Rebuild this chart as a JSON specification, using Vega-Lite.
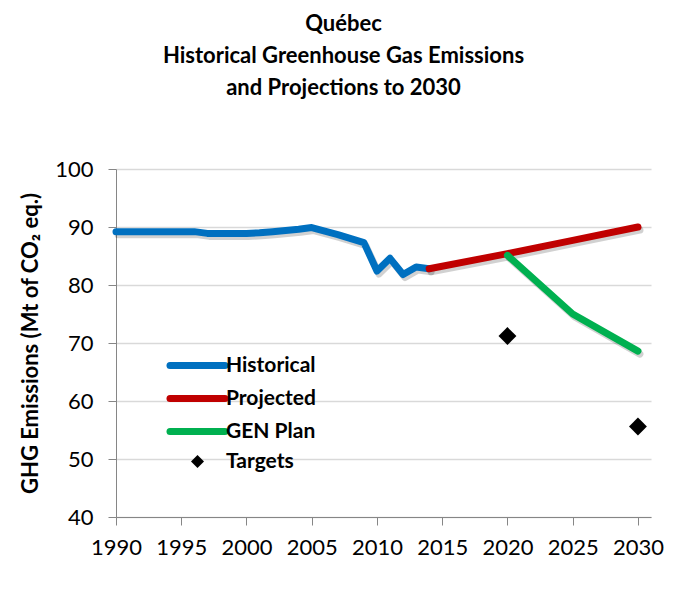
{
  "$schema": "https://vega.github.io/schema/vega-lite/v6.json",
  "width": 535,
  "height": 348,
  "autosize": {"type": "none"},
  "padding": {"left": 116, "top": 169, "right": 25, "bottom": 83},
  "background": "white",
  "config": {
    "font": "Lato",
    "view": {"stroke": null}
  },
  "title": {
    "text": ["Québec", "Historical Greenhouse Gas Emissions", "and Projections to 2030"],
    "fontSize": 22,
    "fontWeight": "bold",
    "font": "Lato",
    "color": "#000000",
    "lineHeight": 32,
    "anchor": "middle",
    "frame": "group",
    "dx": -40,
    "offset": 58
  },
  "datasets": {
    "lines": [
      {"series": "Historical", "year": 1990, "value": 89.2},
      {"series": "Historical", "year": 1991, "value": 89.2},
      {"series": "Historical", "year": 1992, "value": 89.2},
      {"series": "Historical", "year": 1993, "value": 89.2},
      {"series": "Historical", "year": 1994, "value": 89.2},
      {"series": "Historical", "year": 1995, "value": 89.2},
      {"series": "Historical", "year": 1996, "value": 89.2},
      {"series": "Historical", "year": 1997, "value": 88.9},
      {"series": "Historical", "year": 1998, "value": 88.9},
      {"series": "Historical", "year": 1999, "value": 88.9},
      {"series": "Historical", "year": 2000, "value": 88.9},
      {"series": "Historical", "year": 2001, "value": 89.0},
      {"series": "Historical", "year": 2002, "value": 89.2},
      {"series": "Historical", "year": 2003, "value": 89.4},
      {"series": "Historical", "year": 2004, "value": 89.6},
      {"series": "Historical", "year": 2005, "value": 89.9},
      {"series": "Historical", "year": 2006, "value": 89.3},
      {"series": "Historical", "year": 2007, "value": 88.7},
      {"series": "Historical", "year": 2008, "value": 88.0},
      {"series": "Historical", "year": 2009, "value": 87.3},
      {"series": "Historical", "year": 2010, "value": 82.4},
      {"series": "Historical", "year": 2011, "value": 84.6},
      {"series": "Historical", "year": 2012, "value": 81.8},
      {"series": "Historical", "year": 2013, "value": 83.1},
      {"series": "Historical", "year": 2014, "value": 82.8},
      {"series": "Projected", "year": 2014, "value": 82.8},
      {"series": "Projected", "year": 2020, "value": 85.4},
      {"series": "Projected", "year": 2025, "value": 87.7},
      {"series": "Projected", "year": 2030, "value": 90.0},
      {"series": "GEN Plan", "year": 2020, "value": 85.1},
      {"series": "GEN Plan", "year": 2025, "value": 75.0},
      {"series": "GEN Plan", "year": 2030, "value": 68.6}
    ],
    "targets": [
      {"series": "Targets", "year": 2020, "value": 71.2},
      {"series": "Targets", "year": 2030, "value": 55.6}
    ]
  },
  "layer": [
    {
      "data": {"name": "lines"},
      "mark": {"type": "line", "strokeWidth": 7, "strokeCap": "round", "strokeJoin": "round", "color": "#000000", "opacity": 0.18, "xOffset": 2, "yOffset": 3},
      "encoding": {
        "x": {"field": "year", "type": "quantitative"},
        "y": {"field": "value", "type": "quantitative"},
        "detail": {"field": "series"}
      }
    },
    {
      "data": {"name": "lines"},
      "mark": {"type": "line", "strokeWidth": 7, "strokeCap": "round", "strokeJoin": "round"},
      "encoding": {
        "x": {
          "field": "year", "type": "quantitative",
          "scale": {"domain": [1990, 2031], "nice": false, "zero": false},
          "axis": {
            "title": null,
            "values": [1990, 1995, 2000, 2005, 2010, 2015, 2020, 2025, 2030],
            "format": "d",
            "grid": false,
            "domainColor": "#868686",
            "tickColor": "#868686",
            "tickSize": 8,
            "labelFontSize": 22,
            "labelColor": "#000000",
            "labelPadding": 12,
            "labelFlush": false
          }
        },
        "y": {
          "field": "value", "type": "quantitative",
          "scale": {"domain": [40, 100], "nice": false, "zero": false},
          "axis": {
            "title": "GHG Emissions (Mt of CO₂ eq.)",
            "titleFontSize": 22,
            "titleFontWeight": "bold",
            "titleColor": "#000000",
            "titlePadding": 12,
            "values": [40, 50, 60, 70, 80, 90, 100],
            "grid": true,
            "gridColor": "#D9D9D9",
            "gridWidth": 1.5,
            "domainColor": "#868686",
            "tickColor": "#868686",
            "tickSize": 8,
            "labelFontSize": 22,
            "labelColor": "#000000",
            "labelPadding": 15
          }
        },
        "color": {
          "field": "series", "type": "nominal",
          "scale": {"domain": ["Historical", "Projected", "GEN Plan", "Targets"], "range": ["#0070C0", "#C00000", "#00B050", "#000000"]},
          "legend": {
            "title": null,
            "orient": "none",
            "legendX": 71,
            "legendY": 186,
            "symbolType": "stroke",
            "symbolSize": 3025,
            "symbolStrokeWidth": 7,
            "labelFontSize": 21,
            "labelFontWeight": "bold",
            "labelColor": "#000000",
            "labelOffset": 18,
            "rowPadding": 4,
            "padding": 0,
            "encode": {
              "symbols": {
                "update": {
                  "shape": {"signal": "datum.value === 'Targets' ? 'diamond' : 'stroke'"},
                  "size": {"signal": "datum.value === 'Targets' ? 170 : 3025"},
                  "strokeWidth": {"signal": "datum.value === 'Targets' ? 0 : 7"},
                  "fill": {"signal": "datum.value === 'Targets' ? '#000000' : 'transparent'"},
                  "strokeCap": {"value": "round"}
                }
              }
            }
          }
        }
      }
    },
    {
      "data": {"name": "targets"},
      "mark": {"type": "point", "shape": "diamond", "filled": true, "size": 320, "opacity": 1},
      "encoding": {
        "x": {"field": "year", "type": "quantitative"},
        "y": {"field": "value", "type": "quantitative"},
        "color": {"field": "series", "type": "nominal"}
      }
    }
  ]
}
